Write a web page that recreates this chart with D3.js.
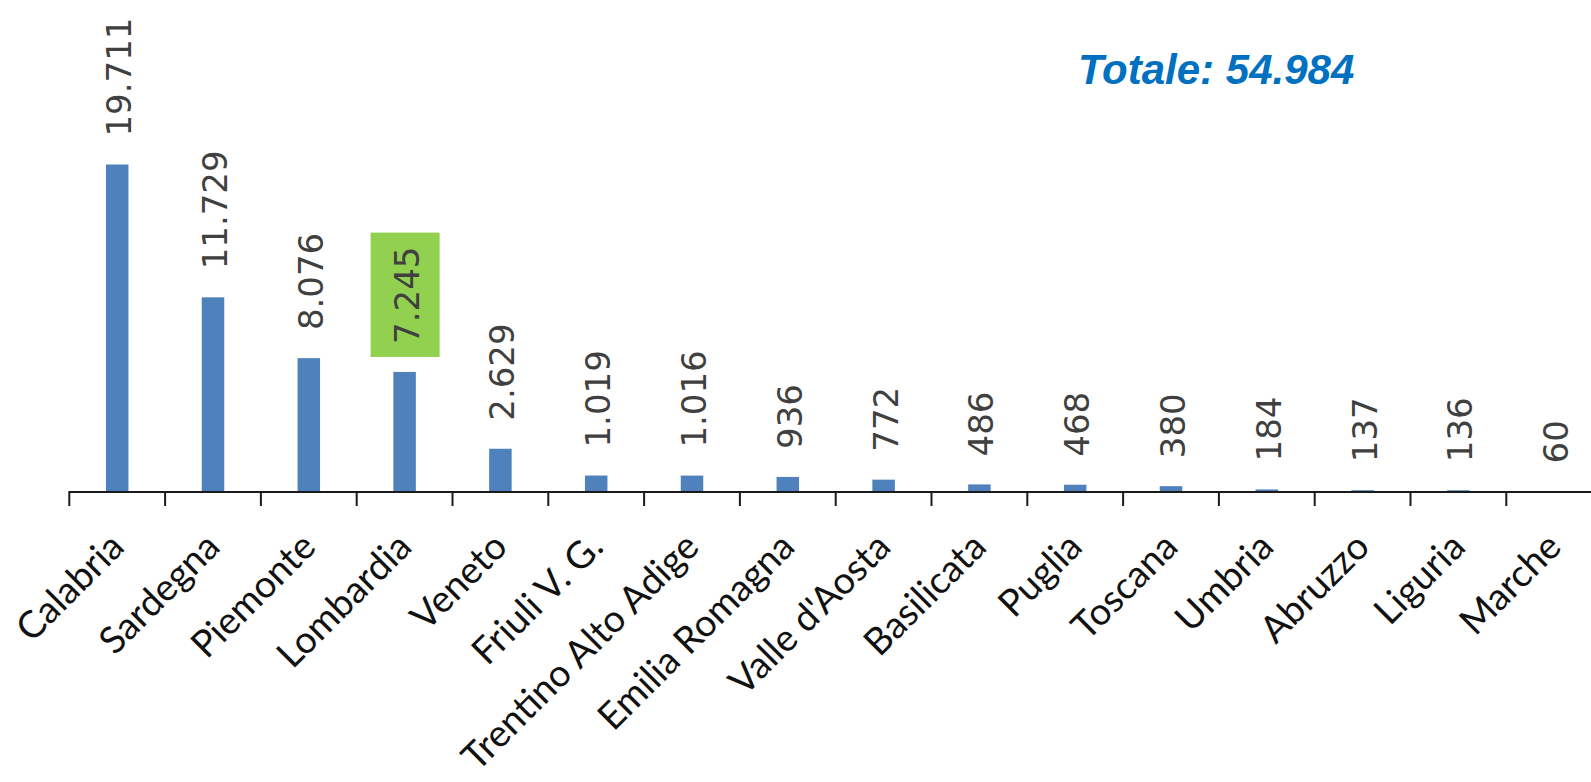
<!DOCTYPE html>
<html>
<head>
<meta charset="utf-8">
<script src="https://cdn.jsdelivr.net/npm/d3@7"></script>
<style>
body { margin: 0; background: #fff; overflow: hidden; }
</style>
</head>
<body>
<div id="chart"></div>
<script>
// regions sorted by value
var regions = ["Calabria", "Sardegna", "Piemonte", "Lombardia", "Veneto", "Friuli V. G.",
    "Trentino Alto Adige", "Emilia Romagna", "Valle d'Aosta", "Basilicata", "Puglia",
    "Toscana", "Umbria", "Abruzzo", "Liguria", "Marche"];
var values = [19711, 11729, 8076, 7245, 2629, 1019, 1016, 936, 772, 486, 468, 380, 184, 137, 136, 60];
var highlighted = "Lombardia";
var totalPrefix = "Totale: ";

var width = 1591, height = 782;

var it = d3.formatLocale({decimal: ",", thousands: ".", grouping: [3], currency: ["", "€"]});
var fmt = it.format(",");

var data = regions.map(function(r, i) { return {region: r, value: values[i]}; });

var svg = d3.select("#chart")
    .append("svg")
        .attr("width", width)
        .attr("height", height);

var axisY = 492;

// X axis (Excel-like: ticks between categories)
var x = d3.scaleBand()
    .domain(regions)
    .range([69.3, 69.3 + regions.length * 95.8])
    .padding(0);

// Y axis (not drawn)
var y = d3.scaleLinear()
    .domain([0, 20000])
    .range([axisY + 0.5, axisY + 0.5 - 20000 * 0.01664]);

var barW = 22.5;

svg.selectAll("rect.bar")
    .data(data)
    .enter()
    .append("rect")
        .attr("class", "bar")
        .attr("x", function(d) { return x(d.region) + (x.bandwidth() - barW) / 2; })
        .attr("y", function(d) { return y(d.value); })
        .attr("width", barW)
        .attr("height", function(d) { return y(0) - y(d.value); })
        .attr("fill", "#4F81BD");

// axis line + ticks
var axis = svg.append("g");
axis.append("line")
    .attr("x1", x.range()[0]).attr("x2", x.range()[1])
    .attr("y1", axisY).attr("y2", axisY)
    .attr("stroke", "#1a1a1a").attr("stroke-width", 2);
axis.selectAll("line.tick")
    .data(regions.concat(["__end"]))
    .enter()
    .append("line")
        .attr("class", "tick")
        .attr("x1", function(d) { return d === "__end" ? x.range()[1] : x(d); })
        .attr("x2", function(d) { return d === "__end" ? x.range()[1] : x(d); })
        .attr("y1", axisY - 1).attr("y2", axisY + 14)
        .attr("stroke", "#1a1a1a").attr("stroke-width", 2);

// category labels
svg.selectAll("text.cat")
    .data(data)
    .enter()
    .append("text")
        .attr("class", "cat")
        .attr("transform", function(d) {
            return "translate(" + (x(d.region) + x.bandwidth() / 2 + 9) + "," + 549 + ") rotate(-45)";
        })
        .attr("text-anchor", "end")
        .style("font-family", "Lato, 'Open Sans', sans-serif")
        .style("font-size", "37.5px")
        .attr("fill", "#111")
        .text(function(d) { return d.region; });

// value labels
var vl = svg.selectAll("g.val")
    .data(data)
    .enter()
    .append("g")
        .attr("class", "val")
        .attr("transform", function(d) {
            return "translate(" + (x(d.region) + x.bandwidth() / 2 + 2) + "," + (y(d.value) - 28) + ") rotate(-90)";
        });

vl.append("text")
    .attr("text-anchor", "start")
    .attr("dy", "0.35em")
    .style("font-family", "'DejaVu Sans', Verdana, sans-serif")
    .style("font-size", "34px")
    .attr("fill", "#404040")
    .text(function(d) { return fmt(d.value); });

// green box behind highlighted label
vl.filter(function(d) { return d.region === highlighted; })
    .each(function() {
        var g = d3.select(this);
        var bb = g.select("text").node().getBBox();
        g.insert("rect", "text")
            .attr("x", bb.x - 13)
            .attr("y", -36)
            .attr("width", bb.width + 27)
            .attr("height", 69)
            .attr("fill", "#92D050");
    });

// total
svg.append("text")
    .attr("x", 1078)
    .attr("y", 83.5)
    .style("font-family", "'Liberation Sans', Arial, sans-serif")
    .style("font-size", "42px")
    .style("font-weight", "bold")
    .style("font-style", "italic")
    .attr("fill", "#0070C0")
    .text(totalPrefix + fmt(d3.sum(values)));
</script>
</body>
</html>
